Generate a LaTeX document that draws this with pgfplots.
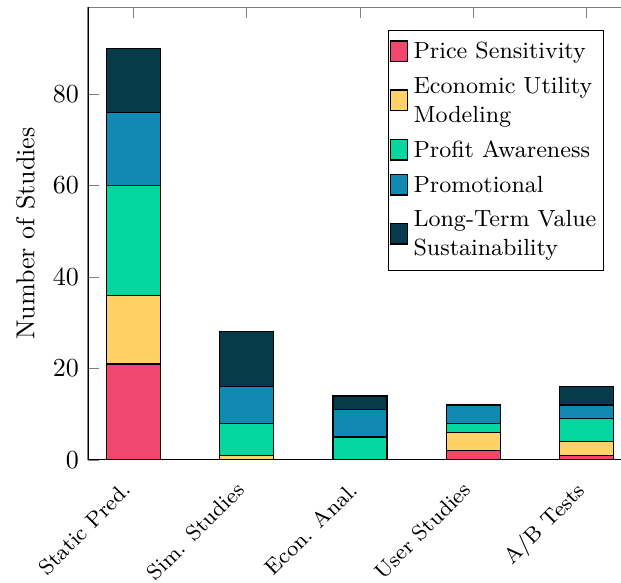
\documentclass[border=0pt]{standalone}
\usepackage{pgfplots}
\pgfplotsset{compat=1.18}

\definecolor{cPrice}{HTML}{EF476F}
\definecolor{cEcon}{HTML}{FFD166}
\definecolor{cProfit}{HTML}{06D6A0}
\definecolor{cPromo}{HTML}{118AB2}
\definecolor{cLong}{HTML}{073B4C}

\begin{document}
\begin{tikzpicture}
% visible region of the figure
\clip (-33.85pt,-47.3pt) rectangle (205pt,176.9pt);
\begin{axis}[
  scale only axis,
  width=209.2pt, height=174.2pt,
  ybar stacked, bar width=0.475,
  xmin=-0.4, xmax=4.4, ymin=0, ymax=99,
  xtick={0,1,2,3,4},
  xticklabels={Static Pred., Sim. Studies, Econ. Anal., User Studies, A/B Tests},
  xtick pos=right, xticklabel pos=left,
  ytick={0,20,40,60,80}, ytick pos=left,
  x tick label style={font=\fontsize{8.3}{10}\selectfont, xshift=-4.5pt, yshift=-3pt, rotate=45, anchor=north east},
  tick style={gray},
  axis line style={gray},
  ylabel={Number of Studies},
  every axis plot/.append style={draw=black, line width=0.5pt},
  legend cell align=left,
  legend image code/.code={\draw[#1, draw=black] (0pt,-3.5pt) rectangle (6.5pt,4.5pt);},
  legend style={at={(rel axis cs:0.9485,0.949)}, anchor=north east,
    draw=black, font=\small, nodes={align=left}, inner xsep=0.7pt, inner ysep=2.5pt,
    row sep=1.6pt},
]
\addplot[fill=cPrice]  coordinates {(0,21) (1,0)  (2,0) (3,2) (4,1)};
\addplot[fill=cEcon]   coordinates {(0,15) (1,1)  (2,0) (3,4) (4,3)};
\addplot[fill=cProfit] coordinates {(0,24) (1,7)  (2,5) (3,2) (4,5)};
\addplot[fill=cPromo]  coordinates {(0,16) (1,8)  (2,6) (3,4) (4,3)};
\addplot[fill=cLong]   coordinates {(0,14) (1,12) (2,3) (3,0) (4,4)};
\addlegendentry{Price Sensitivity}
\addlegendentry{Economic Utility\\Modeling}
\addlegendentry{Profit Awareness}
\addlegendentry{Promotional}
\addlegendentry{Long-Term Value\\Sustainability}
% dark left and bottom axis lines
\draw[black, line width=0.6pt] (rel axis cs:0,1) -- (rel axis cs:0,0) -- (rel axis cs:1,0);
\end{axis}
\end{tikzpicture}
\end{document}
